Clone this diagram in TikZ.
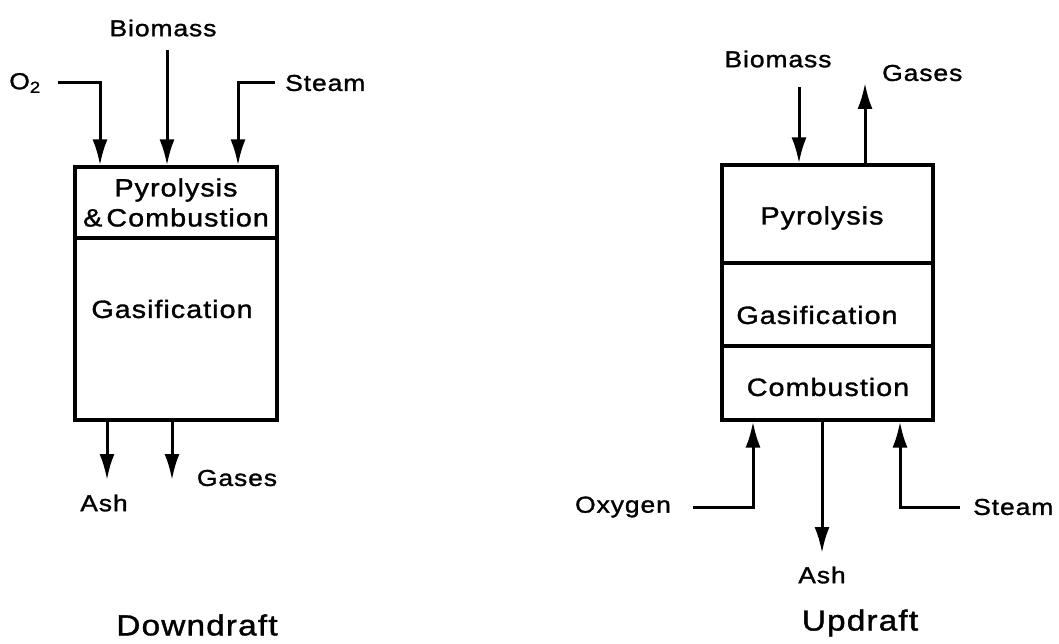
\documentclass[tikz,border=0pt]{standalone}
\usepackage{fontspec}
\usetikzlibrary{arrows.meta}
\newfontfamily\lbl[FakeStretch=1.15,LetterSpace=4,FakeBold=1.3]{Liberation Sans}
\begin{document}
\begin{tikzpicture}[x=1pt,y=-1pt,
  box/.style={draw, line width=3.2pt, inner sep=0pt, align=center,
              font=\lbl\fontsize{25}{30}\selectfont},
  boxtxt/.style={inner sep=0pt, font=\lbl\fontsize{25}{30}\selectfont},
  lab/.style={inner sep=0pt, font=\lbl\fontsize{23}{26}\selectfont},
  ttl/.style={inner sep=0pt, font=\lbl\fontsize{29}{32}\selectfont},
  arr/.style={line width=3pt, -{Latex[length=26pt,width=15pt]}}]
\fill[white] (0,0) rectangle (1059,644);
\useasboundingbox (0,0) rectangle (1059,644);

% ---------------- Downdraft ----------------
\node[box, minimum width=202pt, minimum height=71pt] (pc) at (176,202.5)
  {Pyrolysis\\\&\,Combustion};
\node[box, minimum width=202pt, minimum height=182pt] (gas) at (176,329) {};
\node[boxtxt] (gastxt) at (172,309) {Gasification};

\node[lab] (o2) at (25,83) {O\textsubscript{2}};
\node[lab] (bmL) at (163,28) {Biomass};
\node[lab, anchor=west] (stL) at (285,83) {Steam};
\node[lab] (ashL) at (104,503) {Ash};
\node[lab] (gasesL) at (237,478) {Gases};
\node[ttl] (dd) at (197,625) {Downdraft};

\coordinate (o2a) at (58,83);
\coordinate (o2b) at (100,83);
\coordinate (bmLa) at (167,50);
\coordinate (stLa) at (275,83);
\coordinate (stLb) at (238,83);
\coordinate (ashLe) at (107,480);
\coordinate (gasLe) at (172,480);

\draw[arr] (o2a) -- (o2b) -- (o2b |- pc.north);
\draw[arr] (bmLa) -- (bmLa |- pc.north);
\draw[arr] (stLa) -- (stLb) -- (stLb |- pc.north);
\draw[arr] (ashLe |- gas.south) -- (ashLe);
\draw[arr] (gasLe |- gas.south) -- (gasLe);

% ---------------- Updraft ----------------
\node[box, minimum width=211pt, minimum height=98pt] (pyr) at (827.5,214) {};
\node[box, minimum width=211pt, minimum height=83pt] (gasR) at (827.5,304.5) {};
\node[box, minimum width=211pt, minimum height=74pt] (comb) at (827.5,383) {};
\node[boxtxt] (pyrtxt) at (822,218) {Pyrolysis};
\node[boxtxt] (gasRtxt) at (817,315) {Gasification};
\node[boxtxt] (combtxt) at (828,387) {Combustion};

\node[lab] (bmR) at (778,59) {Biomass};
\node[lab, anchor=west] (gasesR) at (882,73) {Gases};
\node[lab] (ox) at (623,507) {Oxygen};
\node[lab] (ashR) at (822,575) {Ash};
\node[lab, anchor=west] (stR) at (973,507) {Steam};
\node[ttl] (ud) at (860,623) {Updraft};

\coordinate (bmRa) at (799,87);
\coordinate (gR) at (865,83);
\coordinate (oxa) at (693,507);
\coordinate (oxb) at (753,507);
\coordinate (ashRe) at (822,553);
\coordinate (stRa) at (960,507);
\coordinate (stRb) at (900,507);

\draw[arr] (bmRa) -- (bmRa |- pyr.north);
\draw[arr] (gR |- pyr.north) -- (gR);
\draw[arr] (oxa) -- (oxb) -- (oxb |- comb.south);
\draw[arr] (ashRe |- comb.south) -- (ashRe);
\draw[arr] (stRa) -- (stRb) -- (stRb |- comb.south);
\end{tikzpicture}
\end{document}
